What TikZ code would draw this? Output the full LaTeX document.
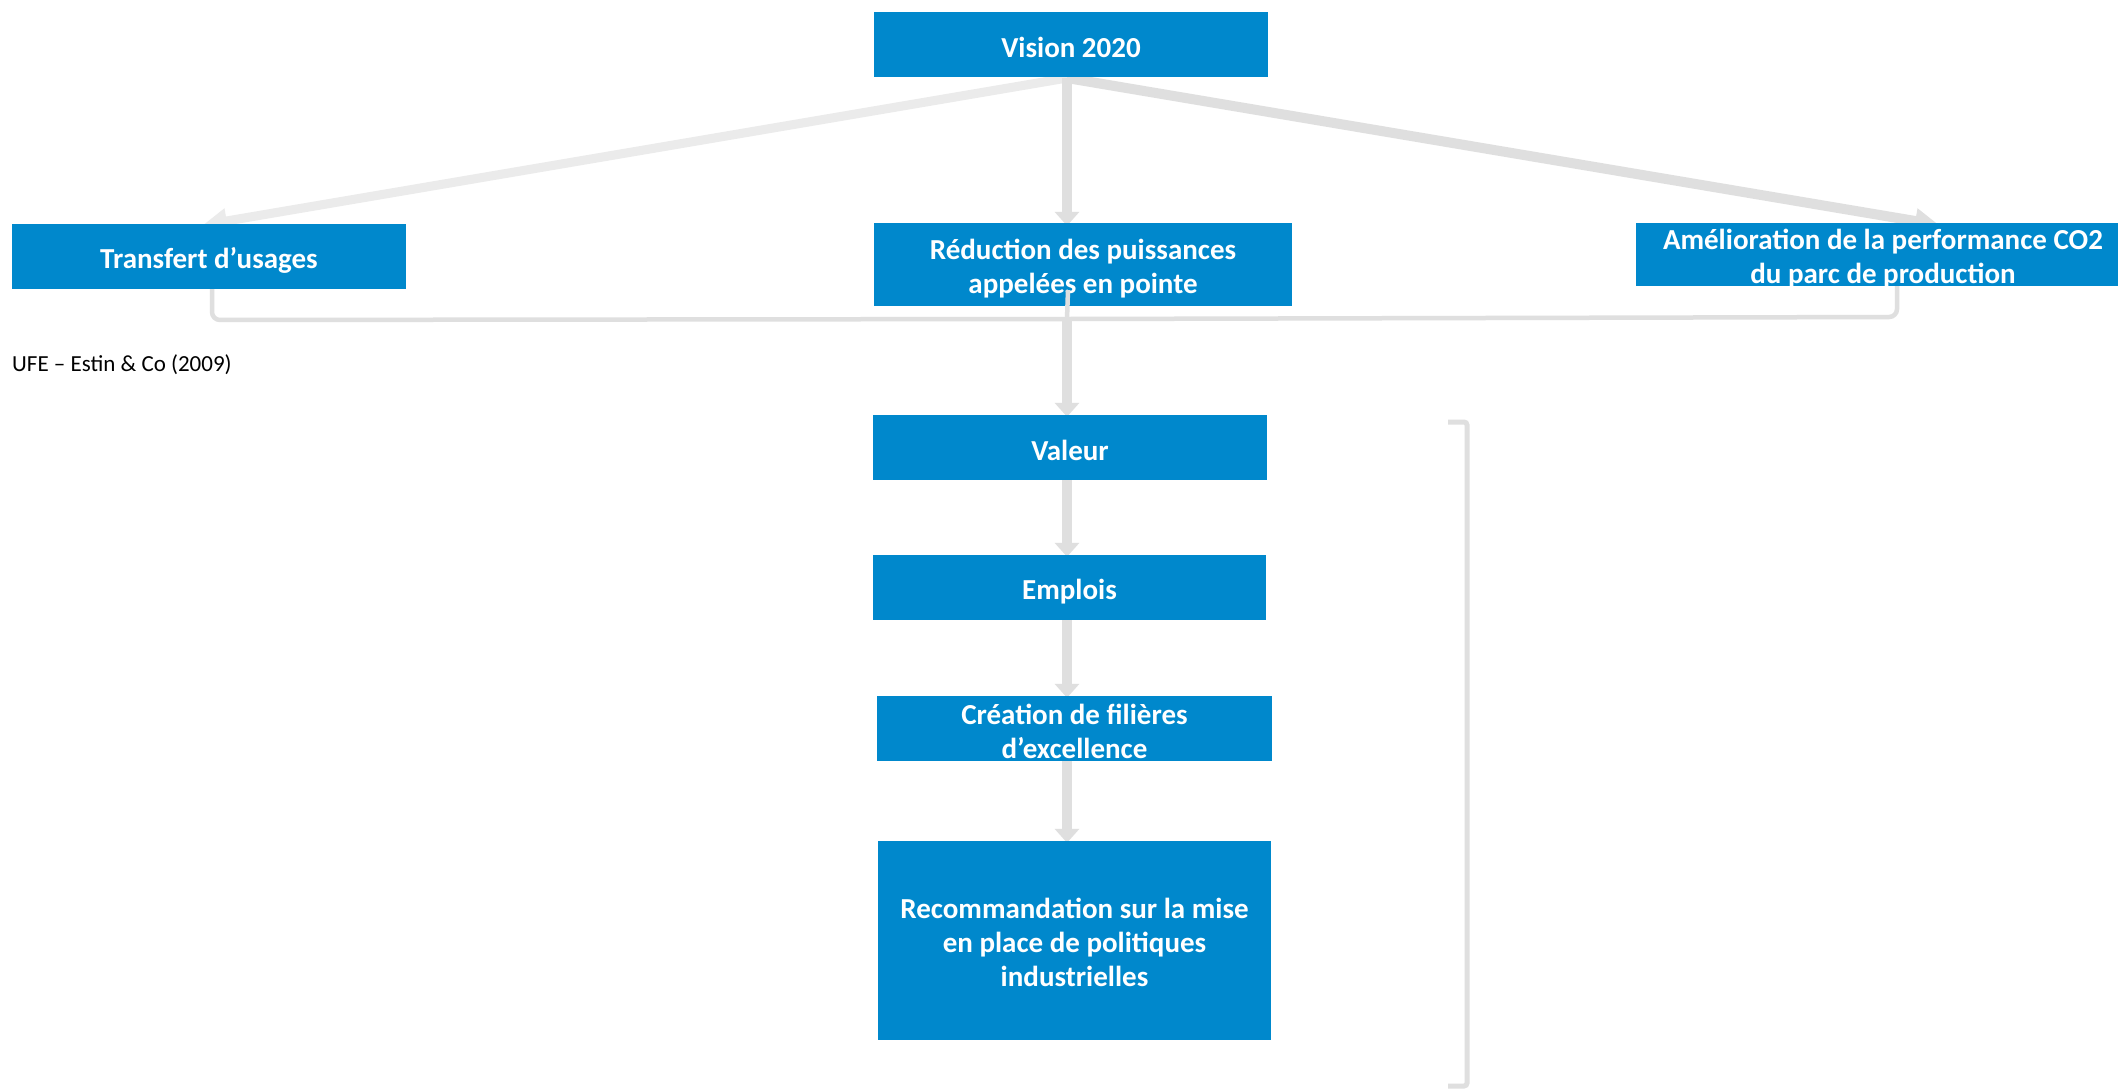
\documentclass[tikz,border=0pt]{standalone}
\usepackage{fontspec}
\setmainfont{Carlito}
\usetikzlibrary{arrows.meta,backgrounds}
\definecolor{boxblue}{HTML}{0088CC}
\definecolor{arrgray}{HTML}{DFDFDF}
\definecolor{arrlight}{HTML}{EBEBEB}
\begin{document}
\begin{tikzpicture}[x=1pt,y=-1pt,
  bluebox/.style={fill=boxblue,inner sep=0pt},
  boxtext/.style={text=white,inner sep=0pt,align=center,
    font=\bfseries\fontsize{29}{34}\selectfont},
  bigarrow/.style={draw=arrgray,line width=10pt,-{Triangle[width=24pt,length=14pt]}},
  thinline/.style={draw=arrgray,line width=4.5pt,rounded corners=8pt},
  diagarrow/.style={line width=9pt,-{Triangle[width=24pt,length=24pt]}}]
\useasboundingbox (0,0) rectangle (2118,1088);

% boxes (shapes)
\node[bluebox,minimum width=394pt,minimum height=65pt] (vision) at (1071,44.5) {};
\node[bluebox,minimum width=394pt,minimum height=65pt] (transfert) at (209,256.5) {};
\node[bluebox,minimum width=418pt,minimum height=83pt] (reduction) at (1083,264.5) {};
\node[bluebox,minimum width=494pt,minimum height=63pt] (amelioration) at (1883,254.5) {};
\node[bluebox,minimum width=394pt,minimum height=65pt] (valeur) at (1070,447.5) {};
\node[bluebox,minimum width=393pt,minimum height=65pt] (emplois) at (1069.5,587.5) {};
\node[bluebox,minimum width=395pt,minimum height=65pt] (creation) at (1074.5,728.5) {};
\node[bluebox,minimum width=393pt,minimum height=199pt] (recom) at (1074.5,940.5) {};

% texts
\node[boxtext] (visionT) at ([yshift=-3pt]vision.center) {Vision 2020};
\node[boxtext] (transfertT) at ([yshift=-4pt]transfert.center) {Transfert d’usages};
\node[boxtext] (reductionT) at ([yshift=-4pt]reduction.center) {Réduction des puissances\\appelées en pointe};
\node[boxtext] (ameliorationT) at ([yshift=-4pt]amelioration.center) {Amélioration de la performance CO2\\du parc de production};
\node[boxtext] (valeurT) at ([yshift=-3pt]valeur.center) {Valeur};
\node[boxtext] (emploisT) at ([yshift=-4pt]emplois.center) {Emplois};
\node[boxtext] (creationT) at ([yshift=-3pt]creation.center) {Création de filières\\d’excellence};
\node[boxtext] (recomT) at ([yshift=-2pt]recom.center) {Recommandation sur la mise\\en place de politiques\\industrielles};

\node[anchor=base west,inner sep=0pt,font=\fontsize{23}{27}\selectfont] (source) at (12,371) {UFE – Estin \& Co (2009)};

% coordinates
\coordinate (vs) at (1067,78);
\coordinate (tl) at (203,225);
\coordinate (tr) at (1939,225);
\coordinate (midtop) at (1068,290);
\coordinate (mid) at (1067,319);
\coordinate (lft) at (212,286);
\coordinate (rgt) at (1897,284);
\coordinate (b1) at (1448,422);
\coordinate (b2) at (1448,1086);

% connectors behind the boxes
\begin{pgfonlayer}{background}
\fill[white] (0,0) rectangle (2118,1088);
\draw[diagarrow,draw=arrlight,fill=arrlight] (vs) -- (tl);
\draw[diagarrow,draw=arrgray,fill=arrgray,line width=10pt] (vs) -- (tr);
\draw[bigarrow] (vs) -- ([yshift=-3pt]reduction.north -| vs);
\draw[thinline] (transfert.south -| lft) -- (212,320) -- (mid);
\draw[thinline] (amelioration.south -| rgt) -- (1897,317) -- (mid);
\draw[bigarrow] (mid) -- ([yshift=-2pt]valeur.north -| mid);
\draw[bigarrow] (valeur.south -| mid) -- ([yshift=-2pt]emplois.north -| mid);
\draw[bigarrow] (emplois.south -| mid) -- ([yshift=-2pt]creation.north -| mid);
\draw[bigarrow] (creation.south -| mid) -- ([yshift=-2pt]recom.north -| mid);
\draw[draw=arrgray,line width=5pt,rounded corners=3pt] (b1) -- (1467,422) -- (1467,1086) -- (b2);
\end{pgfonlayer}

% thin segment drawn over the Réduction box
\draw[draw=arrgray,line width=4.5pt] (midtop) -- (mid);
\end{tikzpicture}
\end{document}
